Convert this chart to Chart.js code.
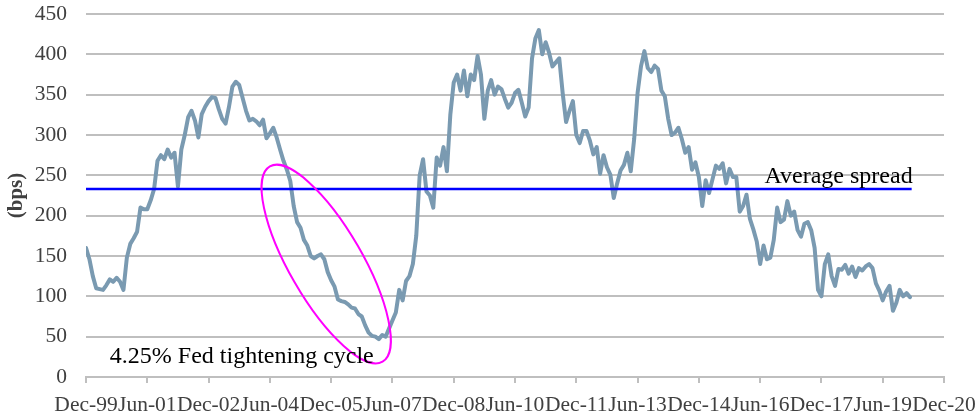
<!DOCTYPE html>
<html>
<head>
<meta charset="utf-8">
<script src="https://cdn.jsdelivr.net/npm/chart.js@4"></script>
<style>
  html, body { margin: 0; padding: 0; background: #ffffff; }
  #wrap { width: 975px; height: 415px; }
</style>
</head>
<body>
<div id="wrap"><canvas id="c" width="975" height="415"></canvas></div>
<script>
// X tick labels (one every 18 months, starting Dec-99)
const tickLabels = ["Dec-99","Jun-01","Dec-02","Jun-04","Dec-05","Jun-07","Dec-08","Jun-10","Dec-11","Jun-13","Dec-14","Jun-16","Dec-17","Jun-19","Dec-20"];
const monthsPerTick = 18;
const yTicks = [0, 50, 100, 150, 200, 250, 300, 350, 400, 450];

// Monthly spread (bps), first value = Dec-99
const spread = [
  160,146,125,110,109,108,114,121,118,123,118,108,148,165,172,180,210,208,208,219,
  233,268,275,270,282,272,278,236,282,300,322,330,318,297,326,335,342,347,346,332,
  320,314,335,360,366,362,346,330,318,320,317,312,319,296,302,309,297,282,268,257,
  243,212,192,185,170,163,150,147,150,152,146,130,120,112,96,94,93,90,86,85,
  78,75,64,55,51,50,47,52,50,60,70,80,108,95,119,125,140,175,250,270,
  230,225,210,272,262,285,255,325,365,375,355,380,348,375,368,398,375,320,355,368,
  350,360,357,345,334,340,352,356,340,323,334,395,420,430,400,415,402,385,390,395,
  352,316,330,342,300,290,305,305,293,276,285,252,275,260,251,222,240,256,263,278,
  255,295,352,385,404,383,378,386,382,355,348,320,300,303,309,295,278,285,257,266,
  248,212,244,228,245,262,258,265,240,258,248,248,205,212,226,196,183,168,140,163,
  146,148,170,210,192,195,218,200,205,182,174,190,192,182,160,108,100,140,152,125,
  113,134,133,139,128,137,124,135,132,137,140,135,116,107,95,106,113,82,92,108,
  100,104,99
];

const averageSpread = 233;
const averageEndMonth = 242.5;

// Annotation anchors (data units: month index, bps)
const ellipseAxisStart = { x: 54.0, y: 261 };
const ellipseAxisEnd = { x: 87.1, y: 19 };
const cycleLabel = { text: "4.25% Fed tightening cycle", x: 7, y: 17 };
const avgLabel = { text: "Average spread" };

const annotationPlugin = {
  id: 'annot',
  afterDatasetsDraw(chart) {
    const ctx = chart.ctx;
    const xs = chart.scales.x, ys = chart.scales.y;
    // ellipse
    const x1 = xs.getPixelForValue(ellipseAxisStart.x), y1 = ys.getPixelForValue(ellipseAxisStart.y);
    const x2 = xs.getPixelForValue(ellipseAxisEnd.x), y2 = ys.getPixelForValue(ellipseAxisEnd.y);
    const cx = (x1 + x2) / 2, cy = (y1 + y2) / 2;
    const len = Math.hypot(x2 - x1, y2 - y1) / 2;
    const ang = Math.atan2(y2 - y1, x2 - x1);
    ctx.save();
    ctx.beginPath();
    ctx.ellipse(cx, cy, len, 36.5, ang, 0, Math.PI * 2);
    ctx.strokeStyle = '#FF00FF';
    ctx.lineWidth = 2;
    ctx.stroke();
    // texts
    ctx.fillStyle = '#000000';
    ctx.font = '24px "Liberation Serif", "Times New Roman", serif';
    ctx.textBaseline = 'alphabetic';
    ctx.textAlign = 'left';
    ctx.fillText(cycleLabel.text, xs.getPixelForValue(cycleLabel.x), ys.getPixelForValue(cycleLabel.y));
    ctx.textAlign = 'right';
    ctx.fillText(avgLabel.text, xs.getPixelForValue(averageEndMonth) + 1, ys.getPixelForValue(averageSpread) - 6);
    ctx.restore();
  }
};

const bgPlugin = {
  id: 'bg',
  beforeDraw(chart) {
    const ctx = chart.ctx;
    ctx.save();
    ctx.fillStyle = '#ffffff';
    ctx.fillRect(0, 0, chart.width, chart.height);
    ctx.restore();
  }
};

const tickFont = { family: '"Liberation Serif", "Times New Roman", serif', size: 21.5 };

new Chart(document.getElementById('c'), {
  type: 'line',
  data: {
    datasets: [
      {
        label: 'Average spread',
        data: [{ x: 0, y: averageSpread }, { x: averageEndMonth, y: averageSpread }],
        borderColor: '#0000FF',
        borderWidth: 2.5,
        pointRadius: 0,
        tension: 0,
        order: 0
      },
      {
        label: 'Spread',
        data: spread.map((v, i) => ({ x: i, y: v })),
        borderColor: '#7A9AB1',
        borderWidth: 4,
        borderJoinStyle: 'round',
        borderCapStyle: 'round',
        pointRadius: 0,
        tension: 0,
        order: 1
      }
    ]
  },
  options: {
    responsive: false,
    devicePixelRatio: 1,
    animation: false,
    layout: { padding: { top: 14, right: 31, left: 0, bottom: 0 } },
    plugins: { legend: { display: false }, tooltip: { enabled: false } },
    scales: {
      x: {
        type: 'linear',
        min: 0,
        max: monthsPerTick * (tickLabels.length - 1),
        afterBuildTicks(scale) {
          scale.ticks = tickLabels.map((_, i) => ({ value: i * monthsPerTick }));
        },
        ticks: {
          autoSkip: false,
          maxRotation: 0,
          minRotation: 0,
          padding: 9,
          color: '#404040',
          font: tickFont,
          callback: (v) => tickLabels[Math.round(v / monthsPerTick)]
        },
        grid: { drawOnChartArea: false, drawTicks: true, tickLength: 6, color: '#BFBFBF', lineWidth: 2 },
        border: { display: true, color: '#BFBFBF', width: 2 },
        afterFit(scale) { scale.height = 38; scale.paddingLeft = 0; scale.paddingRight = 0; }
      },
      y: {
        min: 0,
        max: 450,
        afterBuildTicks(scale) {
          scale.ticks = yTicks.map(v => ({ value: v }));
        },
        ticks: { padding: 19, color: '#404040', font: tickFont },
        grid: { color: '#BFBFBF', lineWidth: 2, drawTicks: false },
        border: { display: false },
        title: {
          display: true,
          text: '(bps)',
          color: '#404040',
          font: { family: '"Liberation Serif", "Times New Roman", serif', size: 21, weight: 'bold' },
          padding: { top: 4, bottom: 0 }
        },
        afterFit(scale) { scale.width = 86; scale.paddingTop = 0; scale.paddingBottom = 0; }
      }
    }
  },
  plugins: [bgPlugin, annotationPlugin]
});
</script>
</body>
</html>
